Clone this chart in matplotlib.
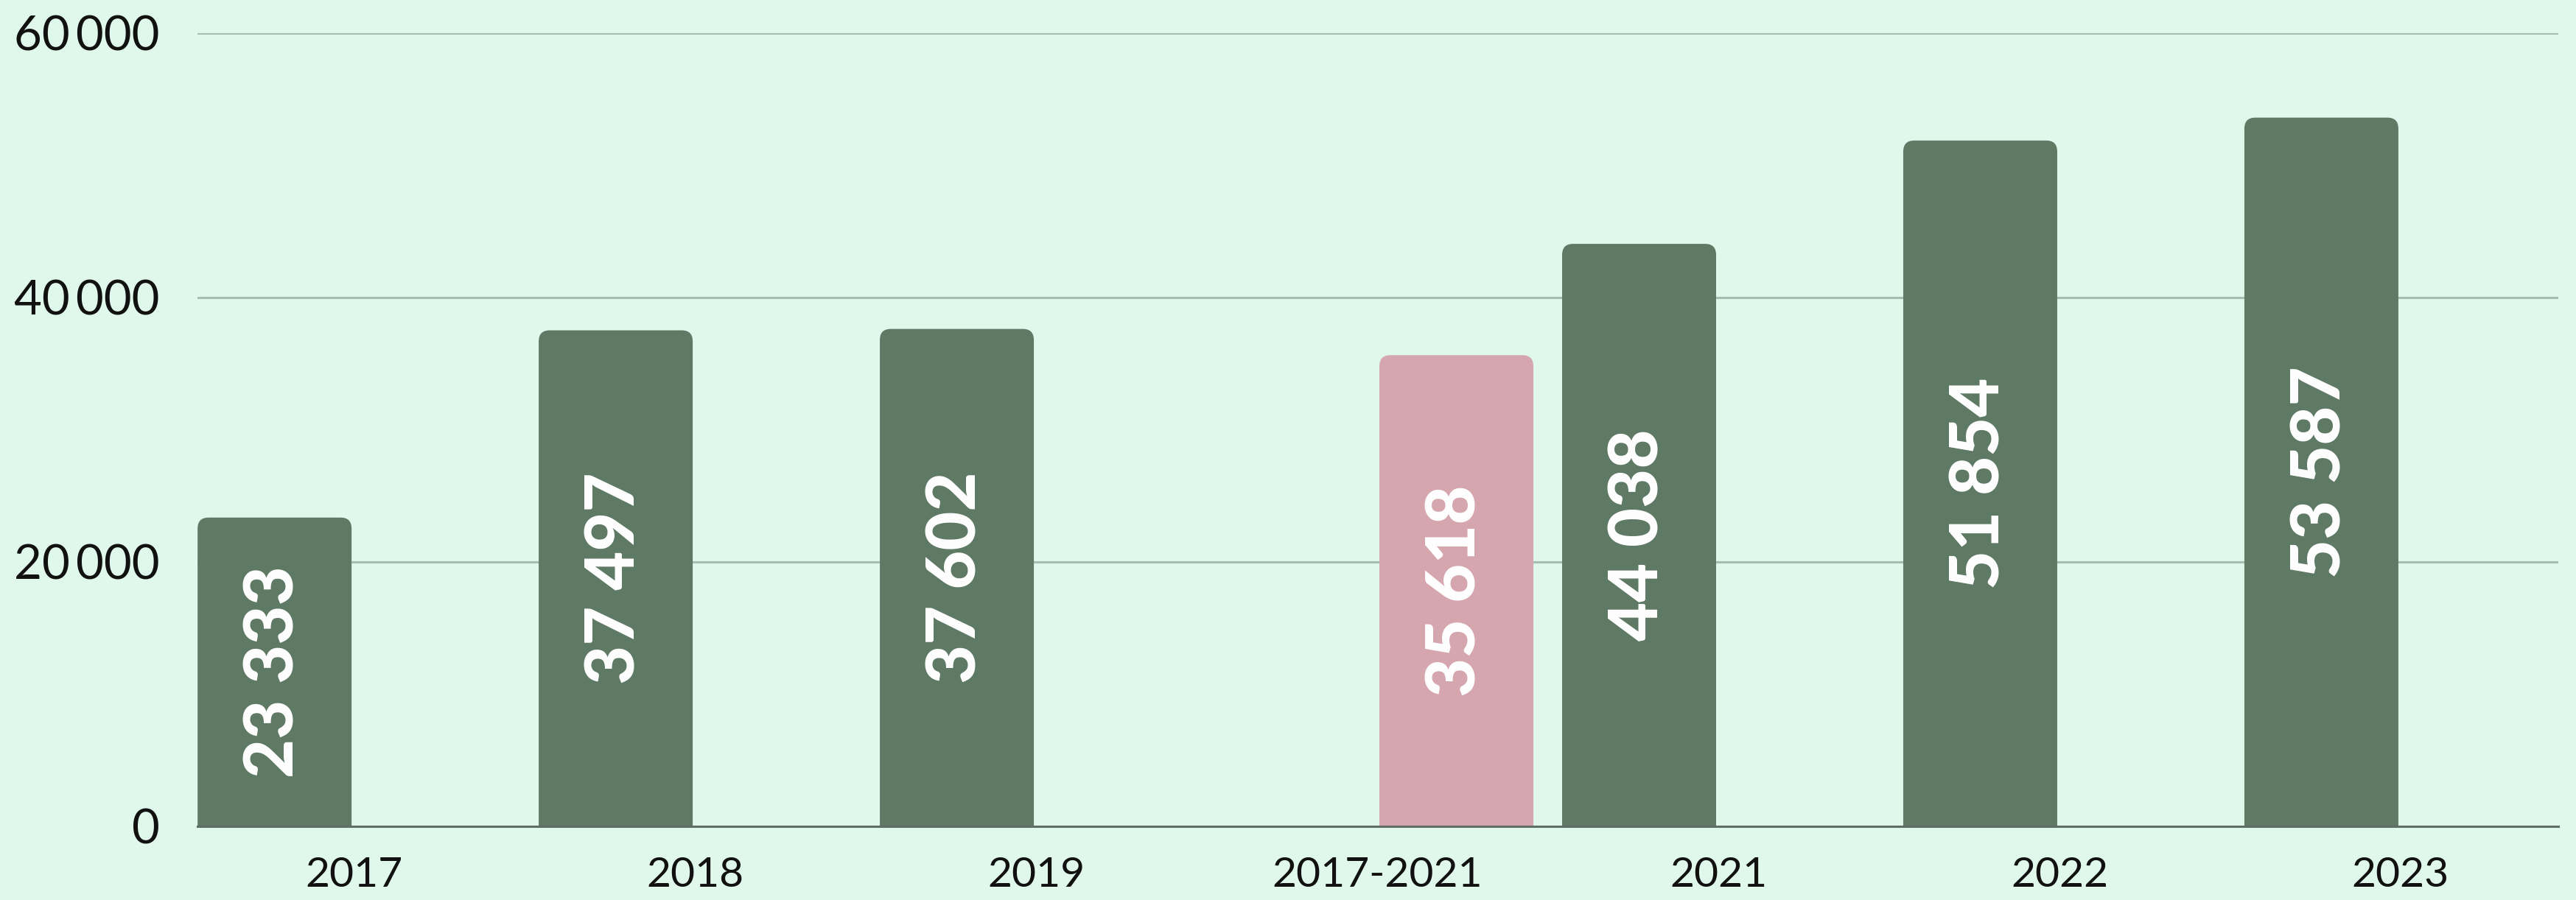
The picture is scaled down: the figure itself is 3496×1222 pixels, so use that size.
import numpy as np
import matplotlib.pyplot as plt
from matplotlib.patches import FancyBboxPatch
from matplotlib.ticker import FuncFormatter

# data
categories = ['2017', '2018', '2019', '2017-2021', '2021', '2022', '2023']
green_vals = [23333, 37497, 37602, np.nan, 44038, 51854, 53587]
pink_vals = [np.nan, np.nan, np.nan, 35618, np.nan, np.nan, np.nan]

BG = '#E0F7EC'
GREEN = '#5E7964'
PINK = '#D5A6AE'
GRID = '#A6BEB1'

plt.rcParams['font.family'] = ['Lato', 'DejaVu Sans']

fig = plt.figure(figsize=(34.96, 12.22), dpi=100, facecolor=BG)
ax = fig.add_axes([0.0767, 0.0822, 0.9164, 0.8813], facecolor=BG)

x = np.arange(len(categories))
w = 0.4514
step = 0.4644

def fmt(v):
    return f'{v:,.0f}'.replace(',', ' ')

def rounded_bars(xs, vals, color, rx=0.032, ry=836):
    bars = ax.bar(xs, np.nan_to_num(vals), width=w, align='edge', color=color, zorder=3)
    for rect, v in zip(bars, vals):
        rect.remove()
        if np.isnan(v):
            continue
        bx, bw = rect.get_x(), rect.get_width()
        patch = FancyBboxPatch((bx, -ry), bw, v + ry,
                               boxstyle=f'round,pad=0,rounding_size={rx}',
                               mutation_aspect=ry / rx,
                               facecolor=color, edgecolor='none', zorder=3)
        ax.add_patch(patch)
        ax.text(bx + bw / 2, v * 0.5, fmt(v), rotation=90, ha='center', va='center',
                color='white', fontsize=66, fontweight='black', zorder=4)

rounded_bars(x, green_vals, GREEN)
rounded_bars(x + step, pink_vals, PINK)

ax.set_xlim(0, 6.92)
ax.set_ylim(0, 60000)
ax.set_yticks([0, 20000, 40000, 60000])
ax.yaxis.set_major_formatter(FuncFormatter(lambda v, p: f'{v:,.0f}'.replace(',', '\u2009')))
ax.set_xticks(x + (step + w) / 2)
ax.set_xticklabels(categories)

ax.grid(axis='y', color=GRID, linewidth=2.2, zorder=0)
ax.set_axisbelow(True)
for s in ['top', 'right', 'left']:
    ax.spines[s].set_visible(False)
ax.spines['bottom'].set_color('#5F6E66')
ax.spines['bottom'].set_linewidth(2.2)
ax.spines['bottom'].set_zorder(5)

ax.tick_params(axis='y', length=0, pad=37, labelsize=47, labelcolor='#111111')
ax.tick_params(axis='x', length=0, pad=30, labelsize=41, labelcolor='#111111')
for lab in ax.get_yticklabels() + ax.get_xticklabels():
    lab.set_fontweight('normal')

fig.savefig('out.png', dpi=100, facecolor=BG)
